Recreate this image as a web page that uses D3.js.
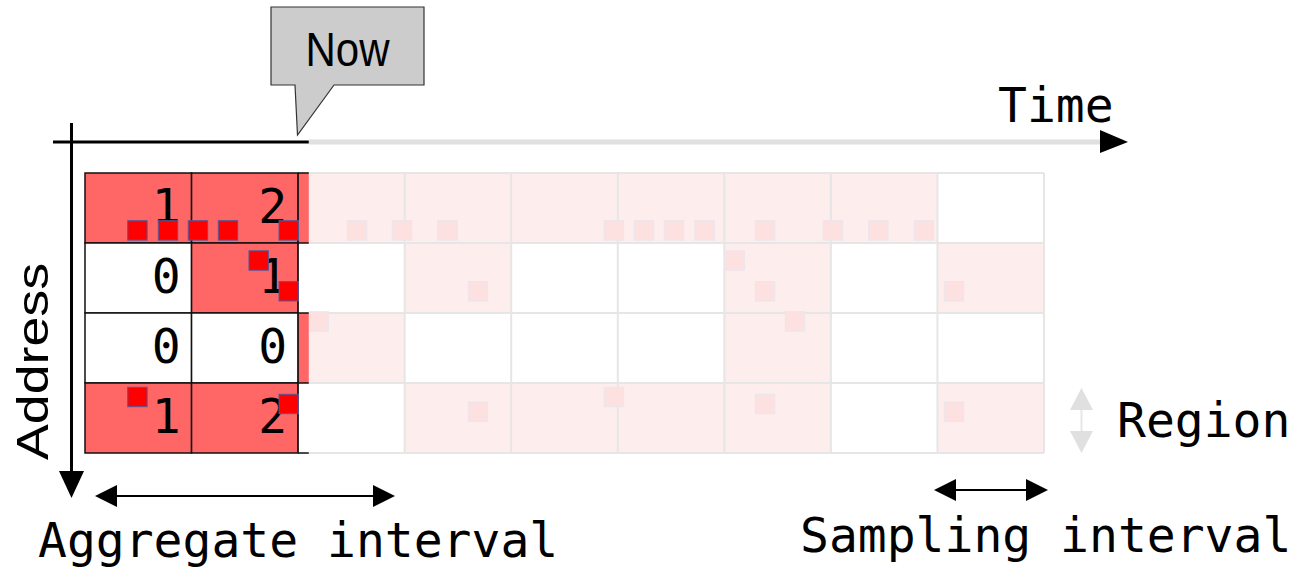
<!DOCTYPE html>
<html>
<head>
<meta charset="utf-8">
<script src="https://cdn.jsdelivr.net/npm/d3@7"></script>
<style>
  html, body { margin: 0; padding: 0; background: #ffffff; }
  svg { display: block; }
</style>
</head>
<body>
<svg id="chart" width="1298" height="567"></svg>
<script>
// ---------------- data ----------------
const regions = [0, 1, 2, 3];                       // address regions (rows)
const aggCounts = [[1, 0, 0, 1], [2, 1, 0, 2]];      // aggregated access counts per past interval (per region)
const currentActive = [1, 0, 1, 0];                  // regions accessed in the running aggregation interval
const nowTime = 21.0;                                // "Now" on the time axis
const samplingInterval = 10;                         // one grid column
const futureActive = [                               // future sampling intervals (columns 2..8) per region
  [1, 1, 1, 1, 1, 1, 0],
  [0, 1, 0, 0, 1, 0, 1],
  [1, 0, 0, 0, 1, 0, 0],
  [0, 1, 1, 1, 1, 0, 1]
];
const pastSampleTime = [4.92, 7.79, 10.60, 13.42, 19.12, 16.30, 19.12, 4.92, 19.12];
const pastSampleAddr = [0.82, 0.82, 0.82, 0.82, 0.82, 1.25, 1.69, 3.20, 3.30];
const futureSampleTime = [25.53, 29.75, 34.01, 49.64, 52.46, 55.27, 58.15, 63.82, 70.20, 74.46, 78.73,
                          36.88, 60.97, 63.82, 81.55,
                          21.93, 66.63,
                          36.88, 49.64, 63.82, 81.55];
const futureSampleAddr = [0.82, 0.82, 0.82, 0.82, 0.82, 0.82, 0.82, 0.82, 0.82, 0.82, 0.82,
                          1.69, 1.25, 1.69, 1.69,
                          2.12, 2.12,
                          3.41, 3.20, 3.30, 3.41];
const labels = {
  now: "Now", time: "Time", address: "Address", region: "Region",
  aggregate: "Aggregate interval", sampling: "Sampling interval"
};

// ---------------- layout ----------------
const svg = d3.select("#chart");
const x = d3.scaleLinear().domain([0, 90]).range([85, 1044]);
const y = d3.scaleLinear().domain([0, 4]).range([173, 453]);
const mono = "'DejaVu Sans Mono', monospace";
const sans = "'Liberation Sans', Arial, sans-serif";
const RED = "#ff6666", PALE = "#fdeded", GRID = "#e6e6e6";
const SQ = 19.4;

// future (pale) cells
const futureCells = [];
futureActive.forEach((row, r) => row.forEach((v, c) => futureCells.push({r, c: c + 2, v})));
svg.append("g").selectAll("rect").data(futureCells.filter(d => d.v)).join("rect")
  .attr("x", d => x(d.c * samplingInterval)).attr("y", d => y(d.r))
  .attr("width", x(samplingInterval) - x(0)).attr("height", y(1) - y(0))
  .attr("fill", PALE);

// gray grid
const gGrid = svg.append("g").attr("stroke", GRID).attr("stroke-width", 2);
d3.range(3, 10).forEach(c => gGrid.append("line")
  .attr("x1", x(c * samplingInterval)).attr("x2", x(c * samplingInterval))
  .attr("y1", y(0)).attr("y2", y(4)));
regions.concat([4]).forEach(r => gGrid.append("line")
  .attr("x1", x(2 * samplingInterval)).attr("x2", x(9 * samplingInterval))
  .attr("y1", y(r)).attr("y2", y(r)));

// future samples
svg.append("g").selectAll("rect").data(futureSampleTime.map((t, i) => ({t, a: futureSampleAddr[i]}))).join("rect")
  .attr("x", d => x(d.t) - SQ / 2).attr("y", d => y(d.a) - SQ / 2)
  .attr("width", SQ).attr("height", SQ)
  .attr("fill", "#fde0e0").attr("stroke", "#e9e6ee").attr("stroke-width", 1);

// aggregated (past) cells
const pastCells = [];
aggCounts.forEach((col, c) => col.forEach((v, r) => pastCells.push({c, r, v})));
svg.append("g").selectAll("rect").data(pastCells).join("rect")
  .attr("x", d => x(d.c * samplingInterval)).attr("y", d => y(d.r))
  .attr("width", x(samplingInterval) - x(0)).attr("height", y(1) - y(0))
  .attr("fill", d => d.v > 0 ? RED : "#ffffff")
  .attr("stroke", "#111").attr("stroke-width", 1.5);

// running interval strip
svg.append("g").selectAll("rect").data(currentActive.map((v, r) => ({v, r}))).join("rect")
  .attr("x", x(2 * samplingInterval)).attr("y", d => y(d.r))
  .attr("width", x(nowTime) - x(2 * samplingInterval)).attr("height", y(1) - y(0))
  .attr("fill", d => d.v ? RED : "#ffffff");
const gBlk = svg.append("g").attr("stroke", "#111").attr("stroke-width", 1.5);
regions.concat([4]).forEach(r => gBlk.append("line")
  .attr("x1", x(2 * samplingInterval)).attr("x2", x(nowTime))
  .attr("y1", y(r)).attr("y2", y(r)));
gBlk.append("line").attr("x1", x(2 * samplingInterval)).attr("x2", x(2 * samplingInterval))
  .attr("y1", y(0)).attr("y2", y(4));

// counts
svg.append("g").selectAll("text").data(pastCells).join("text")
  .attr("x", d => x((d.c + 1) * samplingInterval) - 11)
  .attr("y", d => y(d.r) + 50)
  .attr("text-anchor", "end")
  .attr("font-family", mono).attr("font-size", 48).attr("fill", "#000")
  .text(d => d.v);

// past samples
svg.append("g").selectAll("rect").data(pastSampleTime.map((t, i) => ({t, a: pastSampleAddr[i]}))).join("rect")
  .attr("x", d => x(d.t) - SQ / 2).attr("y", d => y(d.a) - SQ / 2)
  .attr("width", SQ).attr("height", SQ)
  .attr("fill", "#ff0000").attr("stroke", "#4f5a9c").attr("stroke-width", 1);

// time axis
svg.append("line").attr("x1", x(nowTime)).attr("x2", 1104).attr("y1", 142).attr("y2", 142)
  .attr("stroke", "#e0e0e0").attr("stroke-width", 5);
svg.append("line").attr("x1", 53).attr("x2", x(nowTime)).attr("y1", 142).attr("y2", 142)
  .attr("stroke", "#000").attr("stroke-width", 3);
svg.append("path").attr("d", "M1100,130 L1128,142 L1100,153 Z").attr("fill", "#000");
svg.append("text").attr("x", 998).attr("y", 122)
  .attr("font-family", mono).attr("font-size", 48).text(labels.time);

// address axis
svg.append("line").attr("x1", 71.5).attr("x2", 71.5).attr("y1", 123).attr("y2", 475)
  .attr("stroke", "#000").attr("stroke-width", 3);
svg.append("path").attr("d", "M59,471 L84,471 L71.5,498 Z").attr("fill", "#000");
svg.append("text").attr("transform", "translate(48,460) rotate(-90)")
  .attr("font-family", sans).attr("font-size", 44)
  .attr("textLength", 197).attr("lengthAdjust", "spacingAndGlyphs")
  .text(labels.address);

// Now callout
svg.append("path")
  .attr("d", "M271,7 H424 V85 H334 L297.5,135 L295,85 H271 Z")
  .attr("fill", "#cccccc").attr("stroke", "#333").attr("stroke-width", 1.2);
svg.append("text").attr("x", 347.5).attr("y", 66).attr("text-anchor", "middle")
  .attr("font-family", sans).attr("font-size", 48)
  .attr("textLength", 84).attr("lengthAdjust", "spacingAndGlyphs")
  .text(labels.now);

// Region legend
svg.append("line").attr("x1", 1081.5).attr("x2", 1081.5).attr("y1", 408).attr("y2", 433)
  .attr("stroke", "#e6e6e6").attr("stroke-width", 2);
svg.append("path").attr("d", "M1070,410 L1093,410 L1081.5,388 Z").attr("fill", "#e0e0e0");
svg.append("path").attr("d", "M1070,431 L1093,431 L1081.5,453 Z").attr("fill", "#e0e0e0");
svg.append("text").attr("x", 1117).attr("y", 437)
  .attr("font-family", mono).attr("font-size", 48).text(labels.region);

// double arrows
function dblArrow(x1, x2, yy) {
  const g = svg.append("g");
  g.append("line").attr("x1", x1 + 20).attr("x2", x2 - 20).attr("y1", yy).attr("y2", yy)
    .attr("stroke", "#000").attr("stroke-width", 2);
  g.append("path").attr("d", `M${x1},${yy} L${x1 + 22},${yy - 11} L${x1 + 22},${yy + 11} Z`).attr("fill", "#000");
  g.append("path").attr("d", `M${x2},${yy} L${x2 - 22},${yy - 11} L${x2 - 22},${yy + 11} Z`).attr("fill", "#000");
}
dblArrow(95, 395, 496);
dblArrow(934, 1048, 490);
svg.append("text").attr("x", 38).attr("y", 557)
  .attr("font-family", mono).attr("font-size", 48).text(labels.aggregate);
svg.append("text").attr("x", 800).attr("y", 552)
  .attr("font-family", mono).attr("font-size", 48).text(labels.sampling);
</script>
</body>
</html>
